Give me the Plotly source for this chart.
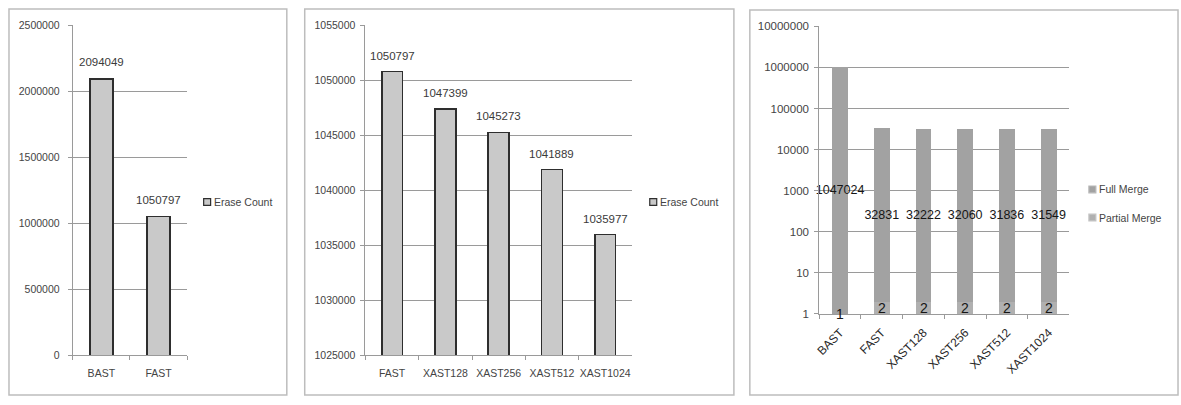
import math
import plotly.graph_objects as go

# ---- data ----
erase_cats_a = ["BAST", "FAST"]
erase_vals_a = [2094049, 1050797]

erase_cats_b = ["FAST", "XAST128", "XAST256", "XAST512", "XAST1024"]
erase_vals_b = [1050797, 1047399, 1045273, 1041889, 1035977]

merge_cats = ["BAST", "FAST", "XAST128", "XAST256", "XAST512", "XAST1024"]
full_merge = [1047024, 32831, 32222, 32060, 31836, 31549]
partial_merge = [1, 2, 2, 2, 2, 2]

W, H = 1181, 405


def fx(px):
    return px / W


def fy(py):
    return 1 - py / H


TICK_FONT = dict(family="Liberation Sans, Arial, sans-serif", size=10.5, color="#444444")
GRID = "#9a9a9a"
BAR_FILL = "#c9c9c9"
BAR_LINE = "#2e2e2e"
MERGE_FILL = "#a2a2a2"

fig = go.Figure()

# ---- panel 1: erase count, BAST vs FAST ----
fig.add_trace(go.Bar(
    x=erase_cats_a, y=erase_vals_a, width=0.4,
    marker=dict(color=BAR_FILL, line=dict(color=BAR_LINE, width=1.6)),
    xaxis="x", yaxis="y", showlegend=False, hoverinfo="x+y",
))

# ---- panel 2: erase count, FAST vs XAST ----
fig.add_trace(go.Bar(
    x=erase_cats_b, y=erase_vals_b, width=0.39,
    marker=dict(color=BAR_FILL, line=dict(color=BAR_LINE, width=1.6)),
    xaxis="x2", yaxis="y2", showlegend=False, hoverinfo="x+y",
))

# ---- panel 3: merge counts on a log scale (partial merges stacked first) ----
merge_text_font = dict(family="Liberation Sans, Arial, sans-serif", size=12.5, color="#161616")
fig.add_trace(go.Bar(
    name="Partial Merge", x=merge_cats, y=partial_merge, width=0.38,
    marker=dict(color="#b0b0b0", line=dict(width=0)),
    xaxis="x3", yaxis="y3", showlegend=False,
))
fig.add_trace(go.Bar(
    name="Full Merge", x=merge_cats, y=full_merge, width=0.38,
    marker=dict(color=MERGE_FILL, line=dict(width=0)),
    text=[str(v) for v in full_merge], textposition="inside", textangle=0,
    insidetextanchor="middle", textfont=merge_text_font, constraintext="none",
    xaxis="x3", yaxis="y3", showlegend=False, cliponaxis=False,
))

annotations = []
label_font = dict(family="Liberation Sans, Arial, sans-serif", size=11.5, color="#3a3a3a")
for cat, val in zip(erase_cats_a, erase_vals_a):
    annotations.append(dict(x=cat, y=val, xref="x", yref="y", text=str(val),
                            showarrow=False, yanchor="middle", yshift=17, font=label_font))
for cat, val in zip(erase_cats_b, erase_vals_b):
    annotations.append(dict(x=cat, y=val, xref="x2", yref="y2", text=str(val),
                            showarrow=False, yanchor="middle", yshift=16, font=label_font))
# partial-merge labels sit at the log-midpoint of their segment (from 1 up to the value)
for cat, val in zip(merge_cats, partial_merge):
    annotations.append(dict(x=cat, y=math.log10(val) / 2, xref="x3", yref="y3", text=str(val),
                            showarrow=False, yanchor="middle",
                            font=dict(merge_text_font, size=14)))

legend_font = dict(family="Liberation Sans, Arial, sans-serif", size=10.5, color="#444444")
shapes = []


def legend_item(x_px, y_px, label, fill, outline):
    shapes.append(dict(type="rect", xref="paper", yref="paper",
                       x0=fx(x_px - 3.5), x1=fx(x_px + 3.5), y0=fy(y_px + 3.5), y1=fy(y_px - 3.5),
                       fillcolor=fill, line=dict(color=outline, width=1.2)))
    annotations.append(dict(x=fx(x_px + 5), y=fy(y_px), xref="paper", yref="paper",
                            text=label, showarrow=False, xanchor="left", yanchor="middle",
                            font=legend_font))


legend_item(203, 202, "Erase Count", BAR_FILL, BAR_LINE)
legend_item(651, 202, "Erase Count", BAR_FILL, BAR_LINE)
legend_item(1092, 189, "Full Merge", MERGE_FILL, "#b8b8b8")
legend_item(1092, 218, "Partial Merge", "#b0b0b0", "#c4c4c4")

# panel frames
for x0, x1, y0, y1 in [(4, 283, 3, 401), (301, 732, 3, 401), (748, 1178, 4, 401)]:
    shapes.append(dict(type="rect", xref="paper", yref="paper",
                       x0=fx(x0), x1=fx(x1), y0=fy(y1), y1=fy(y0),
                       line=dict(color="#bdbdbd", width=1.5), fillcolor="rgba(0,0,0,0)", layer="below"))

common_x = dict(type="category", showgrid=False, showline=True, linecolor=GRID, linewidth=1,
                ticks="outside", tickson="boundaries", ticklen=4, tickcolor=GRID,
                tickfont=TICK_FONT, fixedrange=True)
common_y = dict(showgrid=True, gridcolor=GRID, gridwidth=1, showline=True, linecolor=GRID,
                linewidth=1, ticks="outside", ticklen=4, tickcolor=GRID, tickfont=TICK_FONT,
                zeroline=False, fixedrange=True, tickformat="d")

fig.update_layout(
    width=W, height=H, margin=dict(l=0, r=0, t=0, b=0),
    paper_bgcolor="white", plot_bgcolor="white",
    barmode="stack", showlegend=False,
    xaxis=dict(common_x, domain=[fx(68), fx(183)], anchor="y", tickangle=0, ticklabelstandoff=8),
    yaxis=dict(common_y, domain=[fy(360), fy(20)], anchor="x",
               range=[0, 2500000], dtick=500000, ticklabelstandoff=6),
    xaxis2=dict(common_x, domain=[fx(362), fx(629.5)], anchor="y2", tickangle=0,
                ticklabelstandoff=8),
    yaxis2=dict(common_y, domain=[fy(360), fy(20)], anchor="x2",
                range=[1025000, 1055000], dtick=5000, ticklabelstandoff=3),
    xaxis3=dict(common_x, domain=[fx(817.7), fx(1069)], anchor="y3", tickangle=-45,
                ticklabelstandoff=6,
                tickfont=dict(family="Liberation Sans, Arial, sans-serif", size=12, color="#2a2a2a")),
    yaxis3=dict(common_y, domain=[fy(317.3), fy(21)], anchor="x3", type="log",
                range=[0, 7], dtick=1, ticklabelstandoff=3,
                tickfont=dict(family="Liberation Sans, Arial, sans-serif", size=11.5, color="#444444")),
    uniformtext=dict(mode="show", minsize=12.5),
    annotations=annotations,
    shapes=shapes,
)

fig.write_html("out.html")
